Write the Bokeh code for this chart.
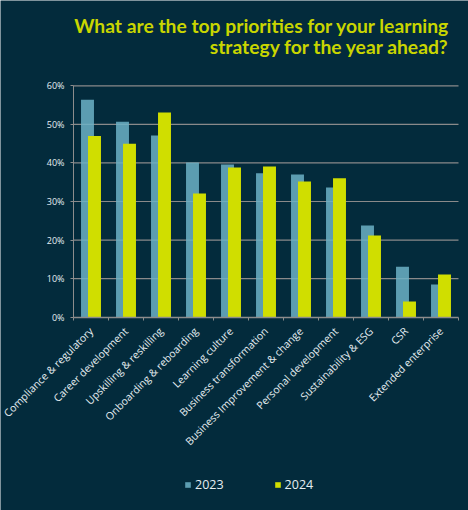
from bokeh.plotting import figure
from bokeh.models import (ColumnDataSource, Range1d, FixedTicker, PrintfTickFormatter,
                          Label, Legend, LegendItem)
from bokeh.embed import file_html
from bokeh.resources import INLINE
import math

categories = ["Compliance & regulatory", "Career development", "Upskilling & reskilling",
              "Onboarding & reboarding", "Learning culture", "Business transformation",
              "Business Improvement & change", "Personal development",
              "Sustainability & ESG", "CSR", "Extended enterprise"]
values_2023 = [56.4, 50.7, 47.1, 40.1, 39.6, 37.3, 37.0, 33.6, 23.8, 13.1, 8.5]
values_2024 = [47.0, 45.0, 53.1, 32.1, 38.8, 39.1, 35.2, 36.0, 21.2, 4.1, 11.1]
y_ticks = [0, 10, 20, 30, 40, 50, 60]
title_lines = ["What are the top priorities for your learning",
               "strategy for the year ahead?"]

BG = "#032b3c"
BLUE = "#6cb2c6"
YELLOW = "#d0de00"
TEXT = "#e6eef2"
GRID = "#8a8a8a"

# layout (pixels): plot area spans x 73..458, y 85..317 of a 468x510 canvas
W, H = 468, 510
PL, PR, PT, PB = 73, 458, 85.3, 316.7
n = len(categories)
ymax = y_ticks[-1]
xs = (PR - PL) / n
ys = (PB - PT) / ymax
x_range = Range1d(-PL / xs, (W - PL) / xs)
y_range = Range1d(-(H - PB) / ys, ymax + PT / ys)

centers = [i + 0.5 for i in range(n)]
src = ColumnDataSource(dict(
    x23=[c - 0.1 for c in centers], x24=[c + 0.1 for c in centers],
    v23=values_2023, v24=values_2024))

p = figure(width=W, height=H, output_backend="svg", toolbar_location=None,
           x_range=x_range, y_range=y_range,
           min_border=0, background_fill_color=BG,
           border_fill_color=BG, outline_line_color=None)
p.title = None
p.grid.visible = False

# horizontal grid lines across the category span
p.segment(x0=0, x1=n, y0=y_ticks[1:], y1=y_ticks[1:], line_color=GRID, line_width=1.2)

r23 = p.vbar(x="x23", top="v23", width=0.37, source=src, fill_color=BLUE,
             fill_alpha=0.85, line_color=None)
r24 = p.vbar(x="x24", top="v24", width=0.37, source=src, fill_color=YELLOW,
             line_color=None)

# x axis pinned at 0
xa = p.xaxis[0]
xa.fixed_location = 0
xa.bounds = (0, n)
xa.ticker = FixedTicker(ticks=centers, minor_ticks=list(range(n + 1)))
xa.major_label_overrides = {c: name for c, name in zip(centers, categories)}
xa.major_label_orientation = math.pi / 4
xa.major_tick_line_color = None
xa.minor_tick_line_color = "#8c8c8c"
xa.minor_tick_out = 3
xa.minor_tick_in = 0
xa.axis_line_color = "#8c8c8c"
xa.axis_line_width = 1.5
xa.major_label_text_color = TEXT
xa.major_label_text_font = "Open Sans"
xa.major_label_text_font_size = "10.5px"
xa.major_label_standoff = 6

# y axis pinned at the left edge of the category span
ya = p.yaxis[0]
ya.fixed_location = 0
ya.bounds = (0, ymax)
ya.ticker = FixedTicker(ticks=y_ticks, minor_ticks=[])
ya.formatter = PrintfTickFormatter(format="%d%%")
ya.axis_line_color = "#8c8c8c"
ya.major_tick_line_color = "#8c8c8c"
ya.major_tick_out = 3
ya.major_tick_in = 0
ya.major_label_text_color = TEXT
ya.major_label_text_font = "Open Sans"
ya.major_label_text_font_size = "9px"
ya.major_label_standoff = 6

# title, two right-aligned lines
for txt, base in zip(title_lines, [25, 46]):
    p.add_layout(Label(x=449, y=H - base, x_units="screen", y_units="screen",
                       text=txt, text_align="right", text_baseline="alphabetic",
                       text_color="#c9d600", text_font="Lato",
                       text_font_size="19.3px", text_font_style="bold"))

legend = Legend(items=[LegendItem(label="2023", renderers=[r23]),
                       LegendItem(label="2024", renderers=[r24])],
                orientation="horizontal", location=(184, 17),
                glyph_width=7, glyph_height=7, label_height=14,
                label_standoff=4, spacing=50, padding=0, margin=0,
                border_line_color=None, background_fill_alpha=0,
                label_text_color=TEXT, label_text_font="Open Sans",
                label_text_font_size="12.5px")
p.add_layout(legend)

open("out.html", "w").write(file_html(p, INLINE))
